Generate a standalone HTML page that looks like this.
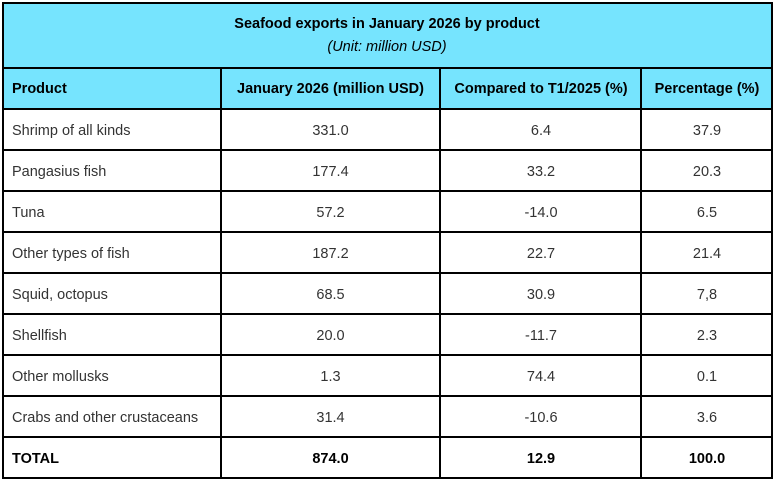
<!DOCTYPE html>
<html><head><style>
body{margin:0;width:774px;height:483px;background:#fff;font-family:"Liberation Sans",sans-serif;position:relative;overflow:hidden}
.bg{position:absolute;background:#76e4fe}
.h{position:absolute;background:#000;height:2px}
.v{position:absolute;background:#000;width:2px}
.t{position:absolute;font-size:14.5px;color:#333;line-height:18px;white-space:nowrap}
.c{text-align:center}
.b{font-weight:bold;color:#000}
</style></head><body>
<div class="bg" style="left:3px;top:3px;width:769px;height:106px"></div>
<div class="h" style="left:2px;top:2px;width:771px"></div>
<div class="h" style="left:2px;top:67px;width:771px"></div>
<div class="h" style="left:2px;top:108px;width:771px"></div>
<div class="h" style="left:2px;top:149px;width:771px"></div>
<div class="h" style="left:2px;top:190px;width:771px"></div>
<div class="h" style="left:2px;top:231px;width:771px"></div>
<div class="h" style="left:2px;top:272px;width:771px"></div>
<div class="h" style="left:2px;top:313px;width:771px"></div>
<div class="h" style="left:2px;top:354px;width:771px"></div>
<div class="h" style="left:2px;top:395px;width:771px"></div>
<div class="h" style="left:2px;top:436px;width:771px"></div>
<div class="h" style="left:2px;top:477px;width:771px"></div>
<div class="v" style="left:2px;top:2px;height:477px"></div>
<div class="v" style="left:771px;top:2px;height:477px"></div>
<div class="v" style="left:220px;top:67px;height:412px"></div>
<div class="v" style="left:439px;top:67px;height:412px"></div>
<div class="v" style="left:640px;top:67px;height:412px"></div>
<div class="t c b" style="left:0;width:774px;top:15px">Seafood exports in January 2026 by product</div>
<div class="t c" style="left:0;width:774px;top:38px;font-style:italic;color:#000">(Unit: million USD)</div>
<div class="t b" style="left:12px;top:80px">Product</div>
<div class="t c b" style="left:221px;width:219px;top:80px">January 2026 (million USD)</div>
<div class="t c b" style="left:441px;width:200px;top:80px">Compared to T1/2025 (%)</div>
<div class="t c b" style="left:642px;width:130px;top:80px">Percentage (%)</div>
<div id="rows"></div>
<script>
var d=[["Shrimp of all kinds","331.0","6.4","37.9"],["Pangasius fish","177.4","33.2","20.3"],["Tuna","57.2","-14.0","6.5"],["Other types of fish","187.2","22.7","21.4"],["Squid, octopus","68.5","30.9","7,8"],["Shellfish","20.0","-11.7","2.3"],["Other mollusks","1.3","74.4","0.1"],["Crabs and other crustaceans","31.4","-10.6","3.6"],["TOTAL","874.0","12.9","100.0"]];
var h="";d.forEach(function(r,i){var y=122+41*i,b=i==8?" b":"";
h+='<div class="t'+b+'" style="left:12px;top:'+y+'px">'+r[0]+'</div>';
h+='<div class="t c'+b+'" style="left:221px;width:219px;top:'+y+'px">'+r[1]+'</div>';
h+='<div class="t c'+b+'" style="left:441px;width:200px;top:'+y+'px">'+r[2]+'</div>';
h+='<div class="t c'+b+'" style="left:642px;width:130px;top:'+y+'px">'+r[3]+'</div>';});
document.getElementById("rows").innerHTML=h;
</script>
</body></html>
